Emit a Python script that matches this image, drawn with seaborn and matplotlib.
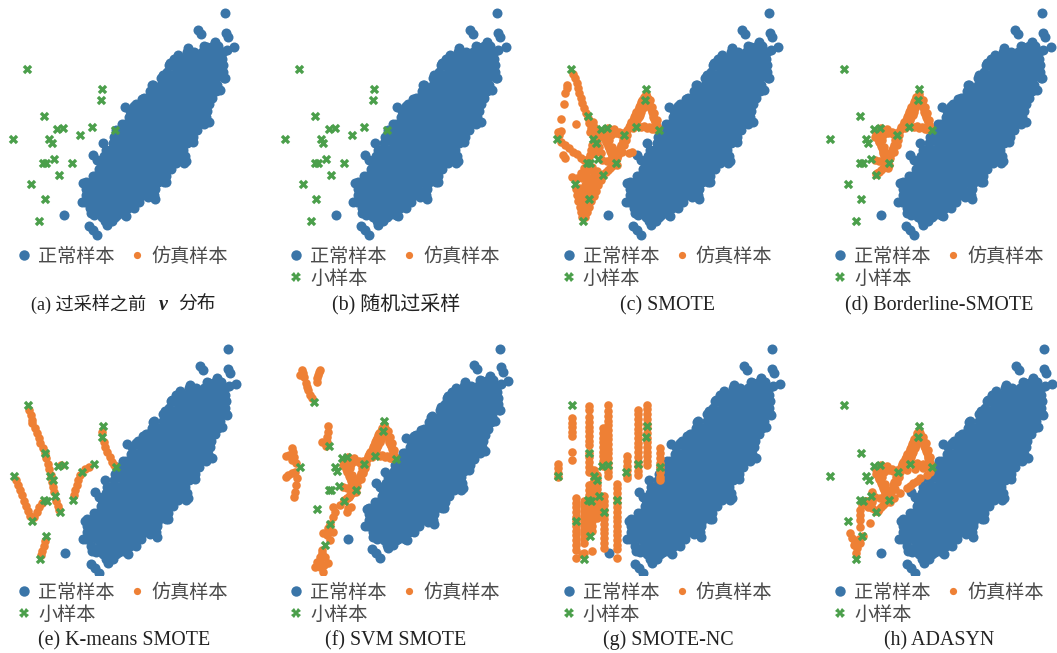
import numpy as np
import seaborn as sns
import matplotlib.pyplot as plt
from matplotlib.lines import Line2D

sns.set_theme(style='white')
plt.rcParams['font.family'] = ['Noto Sans CJK SC', 'DejaVu Sans']

BLUE = '#3a75a8'
ORANGE = '#ee8035'
GREEN = '#4b9f4b'
SERIF = ['Liberation Serif', 'Noto Sans CJK SC']

normal_rows = {
    138: [613, 638, 655],
    156: [560, 583, 605, 627, 649, 668],
    176: [523, 550, 572, 594, 616, 638, 660, 667],
    195: [508, 517, 539, 561, 583, 605, 627, 649, 670],
    215: [502, 528, 550, 572, 594, 616, 638, 660, 669],
    234: [484, 495, 517, 539, 561, 583, 605, 627, 649, 672],
    254: [458, 484, 506, 528, 550, 572, 594, 616, 638, 652],
    273: [450, 473, 495, 517, 539, 561, 583, 605, 627, 647],
    293: [433, 440, 462, 484, 506, 528, 550, 572, 594, 616, 637],
    312: [408, 429, 451, 473, 495, 517, 539, 561, 583, 605, 627],
    332: [391, 418, 440, 462, 484, 506, 528, 550, 572, 594, 616, 622],
    351: [388, 407, 429, 451, 473, 495, 517, 539, 561, 583, 605, 617],
    371: [365, 374, 396, 418, 440, 462, 484, 506, 528, 550, 572, 594, 612],
    390: [348, 363, 385, 407, 429, 451, 473, 495, 517, 539, 561, 583, 592],
    410: [341, 352, 374, 396, 418, 440, 462, 484, 506, 528, 550, 572, 579],
    429: [338, 363, 385, 407, 429, 451, 473, 495, 517, 539, 561],
    449: [318, 330, 352, 374, 396, 418, 440, 462, 484, 506, 528, 550],
    468: [313, 319, 341, 363, 385, 407, 429, 451, 473, 495, 517, 539, 555],
    488: [303, 308, 330, 352, 374, 396, 418, 440, 462, 484, 506, 528, 552],
    507: [298, 319, 341, 363, 385, 407, 429, 451, 473, 495, 512],
    527: [278, 286, 308, 330, 352, 374, 396, 418, 440, 462, 484, 499],
    546: [258, 275, 297, 319, 341, 363, 385, 407, 429, 451, 473, 492],
    566: [258, 264, 286, 308, 330, 352, 374, 396, 418, 440, 465],
    585: [258, 275, 297, 319, 341, 363, 385, 407, 429, 451, 462],
    605: [255, 264, 286, 308, 330, 352, 374, 396, 417],
    624: [270, 297, 319, 341, 363, 385, 402],
    644: [283, 308, 330, 352, 374],
    663: [315, 335],
}
normal_extra = [
    (676, 40), (594, 90), (603, 102), (678, 98), (684, 112), (702, 142), (680, 150),
    (645, 125), (620, 140), (563, 145), (535, 165), (510, 190), (488, 225), (455, 255),
    (425, 298), (402, 318), (375, 322), (310, 430), (280, 466), (292, 480), (628, 365),
    (578, 425), (558, 482), (498, 545), (465, 598), (445, 590), (245, 605), (250, 550),
    (192, 645), (268, 678), (280, 690), (292, 705), (320, 675), (305, 650), (345, 650),
    (378, 648), (272, 640), (660, 270), (675, 235),
    # interior, closes the gaps between the rows
    (540, 205), (600, 205), (525, 245), (585, 245), (495, 283), (555, 283), (615, 283),
    (450, 322), (510, 322), (570, 322), (420, 361), (480, 361), (540, 361), (600, 361),
    (400, 400), (460, 400), (520, 400), (375, 439), (435, 439), (495, 439), (545, 439),
    (345, 478), (405, 478), (465, 478), (525, 478), (330, 517), (390, 517), (450, 517),
    (290, 556), (350, 556), (410, 556), (465, 556), (285, 595), (345, 595), (405, 595),
    (290, 634), (350, 634),
]

minority = [
    (82, 207), (306, 268), (303, 301), (131, 349), (172, 386), (189, 383), (277, 380),
    (241, 405), (345, 391), (39, 416), (148, 416), (155, 428), (162, 476), (130, 488),
    (138, 490), (216, 488), (177, 524), (93, 551), (134, 596), (117, 664),
]

# synthetic samples, shared triangle region used by several methods
triangle = [
    (306, 283), (311, 298), (316, 313), (321, 328), (326, 343), (331, 358), (336, 373), (341, 385),
    (318, 300), (325, 320), (331, 340), (338, 360),
    (295, 300), (288, 315), (281, 330), (274, 345), (267, 360), (258, 375), (250, 390),
    (302, 310), (296, 325), (288, 345), (280, 360), (270, 378),
    (292, 382), (308, 385), (325, 388),
    (308, 290), (313, 305), (318, 320), (323, 335), (328, 350), (333, 365), (338, 379),
    (299, 290), (291, 307), (284, 322), (277, 337), (270, 352), (262, 367), (254, 382),
    (298, 317), (292, 335), (284, 352), (275, 369), (266, 385), (300, 378), (316, 382), (332, 388),
]
triangle_fill = [
    (186, 390), (200, 392), (215, 398), (228, 402), (182, 400), (200, 405),
    (177, 400), (183, 415), (189, 430), (195, 445), (200, 460), (205, 475), (187, 425), (176, 410),
    (196, 420), (203, 440), (208, 458),
    (236, 420), (231, 435), (226, 450), (221, 465), (245, 420), (240, 435), (233, 455),
    (175, 480), (188, 483), (200, 486),
    (193, 437), (186, 422), (180, 407), (198, 452), (203, 467), (238, 427), (228, 443), (223, 458),
    (219, 475), (240, 412), (248, 405), (210, 388), (225, 395), (238, 398), (192, 385), (205, 400),
    (212, 480), (208, 492), (198, 504), (187, 515), (178, 522), (218, 495),
]

orange_c = triangle + triangle_fill + [
    (86, 222), (92, 235), (98, 250), (102, 265), (106, 280), (110, 295), (114, 310), (120, 325),
    (126, 340), (132, 355), (136, 370), (142, 385), (146, 400), (150, 415),
    (146, 365), (150, 380), (158, 395), (138, 395),
    (68, 265), (64, 278), (68, 255), (61, 312), (52, 357), (96, 373), (43, 395), (50, 392),
    (58, 465), (63, 475), (263, 455), (255, 460),
    (50, 425), (62, 435), (74, 445), (86, 455), (98, 463), (110, 473), (120, 480), (45, 405),
    (145, 435), (141, 450), (137, 465), (133, 478), (162, 412),
    (160, 425), (155, 445), (150, 460), (165, 440), (170, 460),
    (145, 500), (160, 512), (205, 498), (192, 511),
    (120, 505), (110, 520), (100, 535), (83, 530),
    (128, 505), (126, 522), (125, 538), (124, 555), (122, 572), (121, 590), (120, 608),
    (119, 625), (118, 642),
    (170, 540), (163, 556), (156, 572), (149, 588), (142, 604), (135, 620), (128, 636), (122, 650),
    (96, 568), (100, 585), (103, 602), (107, 620), (110, 636), (113, 650),
    (105, 565), (115, 578),
    (135, 540), (145, 535), (150, 545), (140, 560), (135, 575), (112, 605), (128, 600),
    (115, 535), (135, 510), (150, 520), (160, 530), (155, 555), (145, 575), (130, 590),
    (112, 590), (108, 575), (125, 580), (138, 600), (130, 625), (112, 625), (105, 600),
]

orange_d = triangle + triangle_fill + [(205, 498), (193, 510), (182, 520), (215, 505)]

orange_e = [
    (86, 222), (90, 235), (94, 250), (95, 260), (103, 275), (108, 290), (113, 305), (118, 320),
    (125, 335), (131, 349), (135, 365), (140, 380), (145, 395), (150, 415), (153, 435), (156, 450),
    (160, 465), (165, 490), (170, 505), (174, 518),
    (45, 430), (51, 445), (58, 460), (64, 475), (70, 490), (76, 505), (82, 520), (88, 535),
    (100, 540), (108, 525), (115, 510), (122, 497),
    (219, 475), (222, 460), (226, 445), (230, 430), (235, 415),
    (252, 397), (263, 390),
    (303, 285), (307, 315), (312, 330), (318, 345), (325, 360), (332, 375), (338, 385),
    (131, 610), (128, 625), (124, 640), (120, 652), (180, 385),
]

orange_f = triangle + triangle_fill + [
    (45, 106), (38, 122), (52, 127), (56, 149), (62, 170), (70, 186), (75, 196), (48, 117), (59, 159),
    (102, 106), (96, 122), (91, 143), (99, 114), (93, 132),
    (128, 284), (126, 303), (123, 319), (109, 335), (123, 335), (120, 350),
    (13, 356), (3, 377), (-8, 379), (11, 393), (24, 404), (22, 430), (0, 441), (-8, 446),
    (27, 452), (24, 473), (22, 494), (19, 510), (16, 367), (20, 383), (11, 436),
    (144, 542), (165, 537), (192, 548), (187, 558), (200, 542), (197, 505), (187, 516),
    (205, 498), (193, 510), (182, 520),
    (149, 558), (144, 574), (135, 596), (126, 611), (112, 627), (123, 633), (144, 622), (133, 649),
    (109, 681), (102, 702), (91, 718), (86, 734), (102, 734), (112, 750), (128, 723), (117, 702),
    (102, 718), (115, 729), (107, 691),
]

# SMOTE-NC falls in vertical columns (x: y values)
orange_g_cols = {
    40: [380, 394, 408, 420],
    83: [245, 258, 272, 285, 298, 345, 370],
    94: [482, 496, 510, 524, 538, 552, 566, 580, 594, 608, 622, 636, 660],
    111: [650],
    116: [490, 504, 518, 532, 546, 560, 574, 588, 602, 616, 645],
    133: [210, 222, 242, 256, 270, 284, 298, 312, 326, 348, 362, 376, 390, 404,
          445, 459, 473, 487, 501, 515, 529, 543, 557, 571, 585],
    141: [440, 454, 468, 482, 496, 510, 524, 538, 552, 566, 580, 640],
    146: [400, 414, 428],
    155: [415, 429, 443, 457, 471, 485, 499, 513, 527, 541],
    175: [275, 289, 303, 317, 331, 345, 359, 373, 387],
    177: [476, 490, 504, 518, 532, 546, 560, 574, 588, 602, 616, 630],
    189: [205, 225, 238, 252, 266, 280, 294, 308, 322, 336, 350, 364, 378, 392, 406, 418],
    217: [440, 454, 468, 482, 496, 510, 524, 538, 552, 566, 580, 594, 608, 622, 634, 660],
    244: [358, 372, 386, 400, 414, 424],
    277: [220, 234, 248, 262, 276, 290, 304, 318, 332, 346, 360, 374, 388, 402, 414],
    304: [205, 219, 233, 247, 261, 275, 289, 303, 317, 331, 345, 359, 373, 385],
    345: [335, 349, 363, 377, 391, 405, 419, 428],
}
orange_g = [(x, y) for x, ys in orange_g_cols.items() for y in ys]

orange_h = triangle + triangle_fill + [
    (328, 414), (308, 424), (288, 439), (268, 454), (249, 469), (229, 482),
    (318, 394), (293, 396), (268, 399), (338, 405), (298, 432), (278, 447),
    (205, 498), (193, 510), (182, 520),
    (134, 503), (130, 518), (130, 533), (128, 548), (130, 568), (159, 558),
    (164, 464), (164, 493), (154, 508), (164, 513),
    (100, 588), (105, 602), (115, 617), (139, 597), (130, 617), (120, 632), (118, 647), (110, 622),
    (125, 605), (143, 492), (150, 490),
]

captions = ['(b) 随机过采样', '(c) SMOTE', '(d) Borderline-SMOTE',
            '(e) K-means SMOTE', '(f) SVM SMOTE', '(g) SMOTE-NC', '(h) ADASYN']

normal = np.array([(x, y) for y, xs in normal_rows.items() for x in xs] + normal_extra)
green = np.array(minority)

FIG_W, FIG_H = 1057, 653
AX_W, AX_H = 257, 240

# panel: orange data, axes left/top, pixel of the top-right blue point, scale, legend left/top, caption x
panels = [
    ([], 0, 0, 225.3, 13.3, 1.0, 14.5, 246, 124),
    ([], 265, 0, 497, 13.3, 1.0, 286.5, 246, 396),
    (orange_c, 530, 0, 769.3, 13.3, 1.0, 559, 246, 668),
    (orange_d, 800, 0, 1042, 13.3, 1.0, 830.5, 246, 939),
    (orange_e, 0, 335, 227.7, 349.3, 1.008, 14.5, 582, 124),
    (orange_f, 265, 335, 500, 349.3, 0.94, 286.5, 582, 396),
    (orange_g, 530, 335, 771.7, 349.3, 1.008, 559, 582, 668),
    (orange_h, 800, 335, 1043.7, 349.3, 1.008, 830.5, 582, 939.5),
]

h_blue = Line2D([], [], ls='', marker='o', color=BLUE, ms=7.5, mew=0)
h_orange = Line2D([], [], ls='', marker='o', color=ORANGE, ms=5.2, mew=0)
h_green = Line2D([], [], ls='', marker='X', color=GREEN, ms=6.5, mew=0)

fig = plt.figure(figsize=(FIG_W / 100, FIG_H / 100), dpi=100)

for i, (orange, left, top, px, py, scale, leg_x, leg_y, cap_x) in enumerate(panels):
    ax = fig.add_axes([left / FIG_W, 1 - (top + AX_H) / FIG_H, AX_W / FIG_W, AX_H / FIG_H])
    sns.scatterplot(x=normal[:, 0], y=normal[:, 1], color=BLUE, s=52, linewidth=0, ax=ax)
    if len(orange):
        pts = np.array(orange)
        sns.scatterplot(x=pts[:, 0], y=pts[:, 1], color=ORANGE, s=38, linewidth=0, ax=ax)
    sns.scatterplot(x=green[:, 0], y=green[:, 1], color=GREEN, marker='X', s=46, linewidth=0, ax=ax)

    unit = 3 / scale
    x0 = 676 - (px - left) * unit
    y0 = 40 - (py - top) * unit
    ax.set_xlim(x0, x0 + AX_W * unit)
    ax.set_ylim(y0 + AX_H * unit, y0)
    ax.axis('off')

    handles = [h_blue, h_orange] if i == 0 else [h_blue, h_green, h_orange]
    labels = ['正常样本', '仿真样本'] if i == 0 else ['正常样本', '小样本', '仿真样本']
    fig.legend(handles, labels, loc='upper left', ncol=2, frameon=False, fontsize=13.8,
               labelcolor='#4a4a4a', bbox_to_anchor=(leg_x / FIG_W, 1 - leg_y / FIG_H),
               borderpad=0, borderaxespad=0, handlelength=1, handletextpad=0.24,
               columnspacing=0.66, labelspacing=0.05)

    cap_y = 1 - (310 if i < 4 else 645) / FIG_H
    if i == 0:
        fig.text(31 / FIG_W, cap_y, '(a) 过采样之前', family=SERIF, fontsize=13.1,
                 color='#222222', va='baseline', ha='left')
        fig.text(163 / FIG_W, cap_y, 'v', family='Liberation Serif', fontsize=14.4, style='italic',
                 weight='bold', color='#222222', va='baseline', ha='center')
        fig.text(178 / FIG_W, cap_y, '分布', family=SERIF, fontsize=13.5,
                 color='#222222', va='baseline', ha='left')
    else:
        fig.text(cap_x / FIG_W, cap_y, captions[i - 1], family=SERIF, fontsize=14.4,
                 color='#222222', va='baseline', ha='center')

fig.savefig('out.png', dpi=100)
